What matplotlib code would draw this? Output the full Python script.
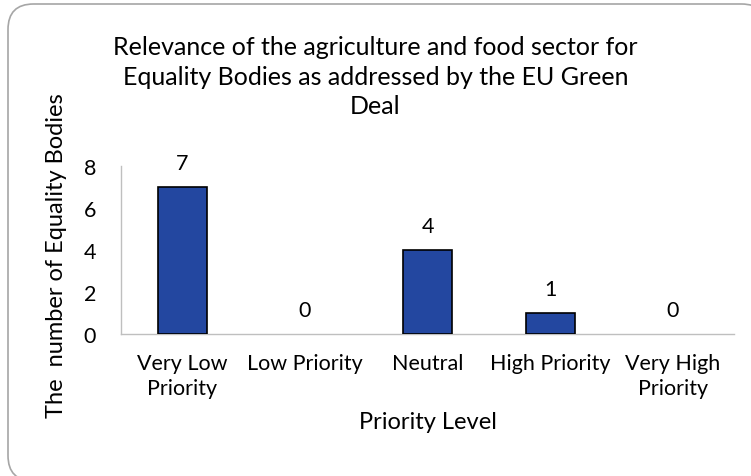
import matplotlib
matplotlib.use("Agg")
import matplotlib.pyplot as plt
from matplotlib.patches import FancyBboxPatch

categories = ["Very Low\nPriority", "Low Priority", "Neutral", "High Priority", "Very High\nPriority"]
counts = [7, 0, 4, 1, 0]
y_ticks = [0, 2, 4, 6, 8]

TITLE = "Relevance of the agriculture and food sector for\nEquality Bodies as addressed by the EU Green\nDeal"
BAR_COLOR = "#2347A0"
AXIS_COLOR = "#BFBFBF"

plt.rcParams["font.family"] = ["Lato", "DejaVu Sans"]

fig = plt.figure(figsize=(7.51, 4.77), dpi=100)
W, H = 751, 477

# rounded chart frame (runs off the right and bottom edges), behind the axes
frame = FancyBboxPatch((8 / W, -5 / H), 759 / W, 477 / H,
                       boxstyle="round,pad=0,rounding_size=0.034",
                       transform=fig.transFigure, facecolor="white",
                       edgecolor="#A6A6A6", linewidth=1.2,
                       mutation_aspect=W / H, zorder=-5)
fig.patches.append(frame)

ax = fig.add_axes([121 / W, 1 - 335 / H, 613 / W, 168 / H])
ax.set_facecolor("none")

x = list(range(len(categories)))
# zero-height bars get no outline, as in the original
edge_w = [1.2 if v > 0 else 0 for v in counts]
ax.bar(x, counts, width=0.4, color=BAR_COLOR, edgecolor="black", linewidth=edge_w, zorder=3)

for xi, v in zip(x, counts):
    ax.annotate(str(v), (xi, v), xytext=(0, 10), textcoords="offset points",
                ha="center", va="bottom", fontsize=15.5)

ax.set_xlim(-0.5, len(categories) - 0.5)
ax.set_ylim(0, 8)
ax.set_yticks(y_ticks)
ax.set_xticks(x)
ax.set_xticklabels(categories, linespacing=1.3)
ax.tick_params(axis="both", length=0, labelsize=15.5)
ax.tick_params(axis="x", pad=14)
ax.tick_params(axis="y", pad=18)
for side in ["top", "right"]:
    ax.spines[side].set_visible(False)
for side in ["left", "bottom"]:
    ax.spines[side].set_color(AXIS_COLOR)
    ax.spines[side].set_linewidth(1.0)

ax.set_xlabel("Priority Level", fontsize=17, labelpad=9)
ax.set_ylabel("The  number of Equality Bodies", fontsize=17)
ax.yaxis.set_label_coords(-0.088, 0.47)

fig.text(0.5, 1 - 36 / H, TITLE, ha="center", va="top", fontsize=18, linespacing=1.35)

fig.savefig("out.png", dpi=100)
